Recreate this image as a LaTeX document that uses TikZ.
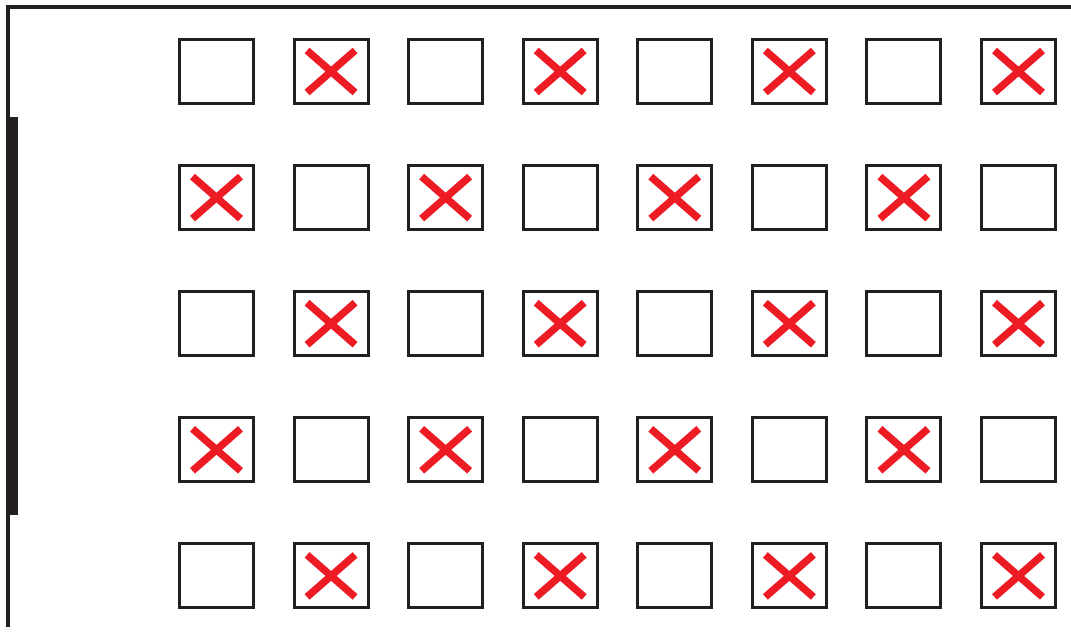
\documentclass[tikz,border=0pt]{standalone}
\usepackage{tikz}
\definecolor{inkblack}{HTML}{231F20}
\definecolor{crossred}{HTML}{ED1C24}
\tikzstyle{seat} = [
    rectangle,
    minimum width=1.48cm,
    minimum height=1.28cm,
    inner sep=0pt,
    line width=1.7pt,
    draw=inkblack
]
\tikzstyle{cross} = [line width=4.2pt, draw=crossred]
\tikzstyle{wall} = [line width=1.8pt, draw=inkblack]

\begin{document}
\begin{tikzpicture}[x=0.02cm, y=-0.02cm]
\useasboundingbox (0,0) rectangle (1071,639);

% room outline
\coordinate (corner) at (8,7);
\draw [wall] (1071,7) -- (corner) -- (8,627);
\fill [inkblack] (6,117) rectangle (18,515);

% seats
\foreach \r in {1,...,5}{
  \foreach \c in {1,...,8}{
    \node (s-\r-\c) [seat] at ({216.5+114.57*(\c-1)},{71.5+126.1*(\r-1)}) {};
  }
}

% crossed seats
\foreach \r in {1,...,5}{
  \foreach \c in {1,...,8}{
    \pgfmathtruncatemacro{\odd}{mod(\r+\c,2)}
    \ifnum\odd=1
      \draw [cross] (s-\r-\c.center) +(-24,-21) -- +(24,21)
                    (s-\r-\c.center) +(-24,21) -- +(24,-21);
    \fi
  }
}

\end{tikzpicture}
\end{document}
